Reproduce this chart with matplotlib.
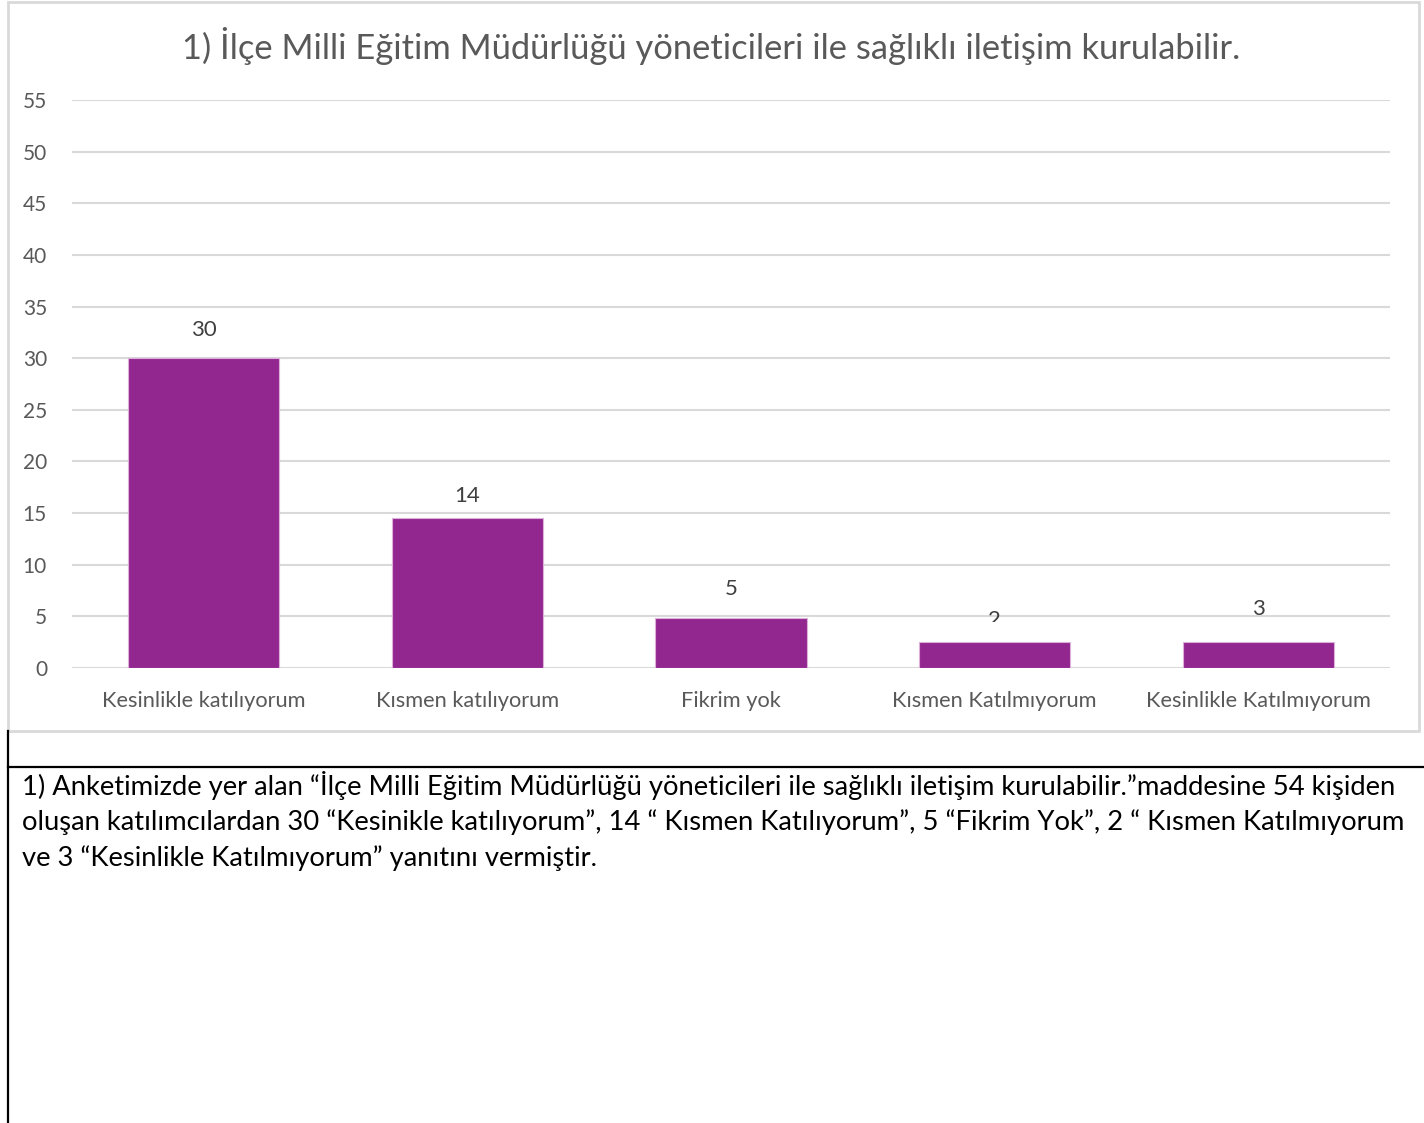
import matplotlib.pyplot as plt
from matplotlib.patches import Rectangle
from matplotlib.lines import Line2D

plt.rcParams['font.family'] = ['Lato', 'DejaVu Sans']

# chart data
categories = ["Kesinlikle katılıyorum", "Kısmen katılıyorum", "Fikrim yok",
              "Kısmen Katılmıyorum", "Kesinlikle Katılmıyorum"]
values = [30, 14, 5, 2, 3]              # data labels
bar_heights = [30, 14.5, 4.85, 2.5, 2.5]  # heights as drawn in the source chart
yticks = list(range(0, 56, 5))

title = "1) İlçe Milli Eğitim Müdürlüğü yöneticileri ile sağlıklı iletişim kurulabilir."
caption = [
    "1) Anketimizde yer alan “İlçe Milli Eğitim Müdürlüğü yöneticileri ile sağlıklı iletişim kurulabilir.”maddesine 54 kişiden",
    "oluşan katılımcılardan 30 “Kesinikle katılıyorum”, 14 “ Kısmen Katılıyorum”, 5 “Fikrim Yok”, 2 “ Kısmen Katılmıyorum",
    "ve 3 “Kesinlikle Katılmıyorum” yanıtını vermiştir.",
]

W, H = 1424, 1123
fig = plt.figure(figsize=(W / 100, H / 100), dpi=100)

def fx(px):
    return px / W

def fy(py):
    return 1 - py / H

# chart frame
fig.patches.append(Rectangle((fx(8), fy(731)), fx(1411), 731 / H - 1.5 / H,
                             transform=fig.transFigure, fill=False,
                             edgecolor='#d9d9d9', linewidth=2))
# table lines below chart
fig.lines.append(Line2D([fx(8), fx(8)], [fy(731), 0], transform=fig.transFigure,
                        color='black', linewidth=1.6))
fig.lines.append(Line2D([fx(8), 1], [fy(767), fy(767)], transform=fig.transFigure,
                        color='black', linewidth=1.6))

ax = fig.add_axes([fx(72), fy(668), fx(1318), 568 / H])
x = range(len(categories))
bars = ax.bar(x, bar_heights, width=0.573, color='#92278F',
              edgecolor='#dcb0da', linewidth=0.8, zorder=3)
ax.set_xlim(-0.5, len(categories) - 0.5)
ax.set_ylim(0, 55)
ax.set_yticks(yticks)
ax.set_xticks(list(x))
ax.set_xticklabels(categories)
ax.tick_params(axis='y', length=0, pad=18, labelsize=15, labelcolor='#595959')
ax.tick_params(axis='x', length=0, pad=16.5, labelsize=15.7, labelcolor='#595959')
ax.grid(axis='y', color='#d9d9d9', linewidth=1.5, zorder=0)
for s in ax.spines.values():
    s.set_visible(False)

for i, v in enumerate(values):
    t = ax.annotate(str(v), (i, v), xytext=(0, 20), textcoords='offset points',
                    ha='center', va='center', fontsize=16, color='#404040')
    if v < 3:
        # the label for 2 is cut off just under the 5 gridline in the source
        clip = Rectangle((i - 0.5, 4.5), 1, 50, transform=ax.transData)
        t.set_clip_path(clip)

fig.text(fx(711), fy(46), title, ha='center', va='center', fontsize=24.8,
         color='#595959')

for k, line in enumerate(caption):
    fig.text(fx(22), fy(786 + 36 * k), line, ha='left', va='center',
             fontsize=19.7, color='black')

fig.savefig('out.png', dpi=100)
